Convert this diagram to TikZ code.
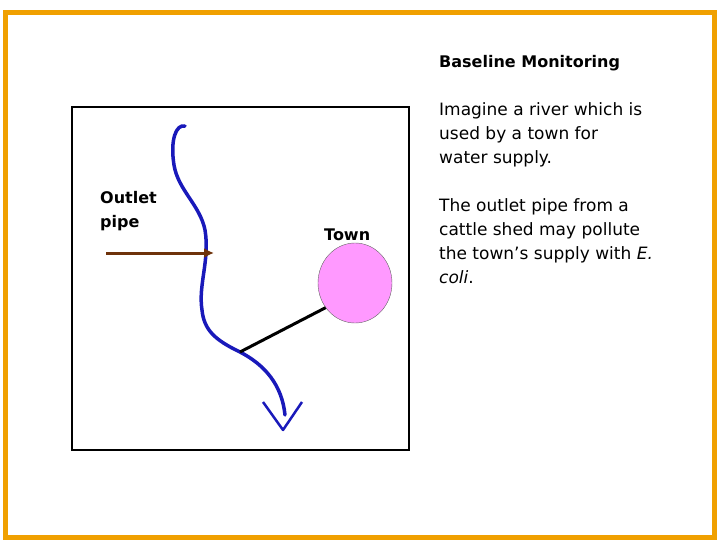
\documentclass[tikz,border=0pt]{standalone}
\usepackage{fontspec}
\setmainfont{DejaVu Sans}
\usetikzlibrary{shapes.geometric,arrows.meta}
\begin{document}
\begin{tikzpicture}[x=1pt,y=-1pt,
 txt/.style={anchor=north west,inner sep=0pt,align=left,font=\fontsize{17}{24}\selectfont},
 river/.style={draw=blue!70!black!90,line width=3.5pt,line cap=round,line join=round}]
\useasboundingbox (0,0) rectangle (720,540);
\draw[draw={rgb,255:red,240;green,160;blue,0},line width=5pt] (5,13) rectangle (714,537);
\draw[line width=2pt] (72,107) rectangle (409,450);
\node[txt,font=\fontsize{16}{24}\selectfont\bfseries] (title) at (439,55) {Baseline Monitoring};
\node[txt] (p1) at (439,102) {Imagine a river which is\\used by a town for\\water supply.};
\node[txt] (p2) at (439,198) {The outlet pipe from a\\cattle shed may pollute\\the town’s supply with \textit{E.}\\\textit{coli}.};
\node[txt,font=\fontsize{16}{24}\selectfont\bfseries] (outlet) at (100,191) {Outlet\\pipe};
\node[txt,font=\fontsize{16}{24}\selectfont\bfseries] (townlbl) at (324,229) {Town};
\node[draw=black!60,fill={rgb,255:red,255;green,153;blue,255},ellipse,minimum width=74pt,minimum height=80pt,inner sep=0pt] (town) at (355,283) {};
\coordinate (rs) at (185,126);
\coordinate (rj) at (240,352);
\coordinate (re) at (283,430);
\draw[river] (rs) .. controls (176,124) and (170,140) .. (174,165)
 .. controls (178,190) and (200,205) .. (205,230)
 .. controls (210,260) and (198,285) .. (202,310)
 .. controls (204,330) and (215,340) .. (rj)
 .. controls (265,365) and (282,385) .. (285,415);
\draw[river,line width=2.5pt,line cap=butt] (263,402) -- (re) -- (302,402);
\draw[line width=3pt] (rj) -- (town.220);
\coordinate (ps) at (106,253);
\coordinate (pe) at (214,253);
\draw[line width=3pt,draw={rgb,255:red,110;green,50;blue,10},-{Latex[length=10pt,width=10pt]}] (ps) -- (pe);
\end{tikzpicture}
\end{document}
